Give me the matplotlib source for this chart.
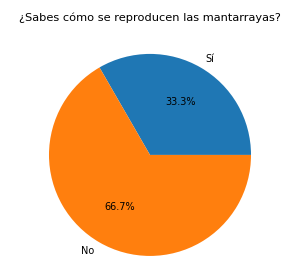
import matplotlib
matplotlib.use("Agg")
import matplotlib.pyplot as plt

labels = ["Sí", "No"]
values = [1, 2]
title = "¿Sabes cómo se reproducen las mantarrayas?"

fig = plt.figure(figsize=(3, 2.73), dpi=100)
ax = fig.add_axes([0.079, -0.03, 0.842, 0.925])
ax.pie(values, labels=labels, autopct="%1.1f%%",
       textprops={"fontsize": 7})
ax.set_aspect("equal")
fig.suptitle(title, fontsize=8.2, y=0.955)
fig.savefig("out.png", dpi=100)
